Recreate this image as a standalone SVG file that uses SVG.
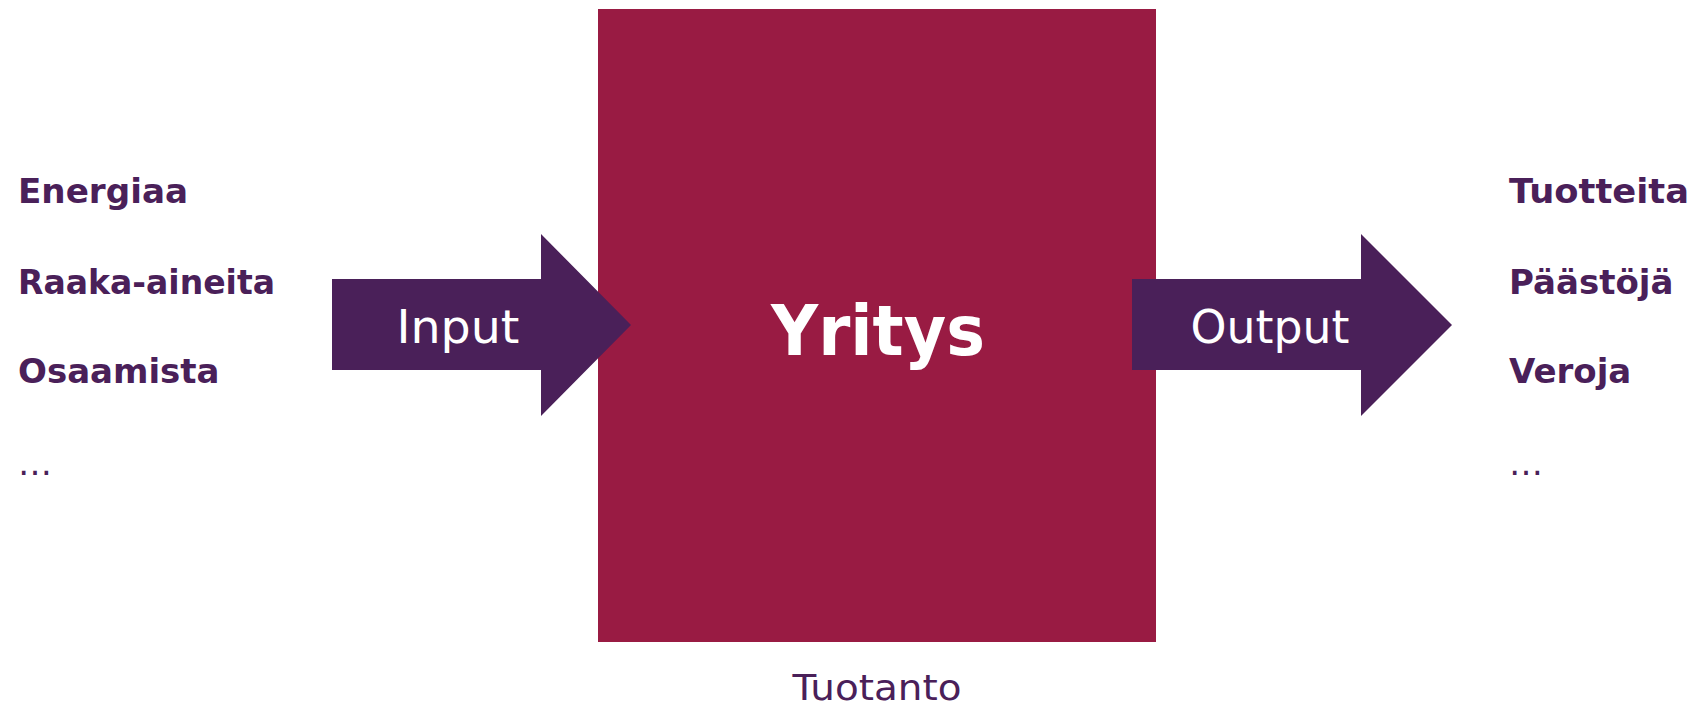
<svg xmlns="http://www.w3.org/2000/svg" width="1698" height="708" viewBox="0 0 1698 708">
<style>
.lbl{font-family:"DejaVu Sans","Liberation Sans",sans-serif;fill:#4a2059}
.b{font-weight:bold;font-size:34px}
.n{font-size:34px}
.arr{fill:#4a2059}
.wt{font-family:"DejaVu Sans","Liberation Sans",sans-serif;fill:#ffffff}
</style>
<rect width="1698" height="708" fill="#ffffff"/>
<g id="yritys">
<rect x="598" y="9" width="558" height="633" fill="#991b43"/>
</g>
<g id="connectors">
<polygon id="input-arrow" class="arr" points="332,279 541,279 541,234 631,325 541,416 541,370 332,370"/>
<polygon id="output-arrow" class="arr" points="1132,279 1361,279 1361,234 1452,325 1361,416 1361,370 1132,370"/>
</g>
<text class="wt" x="878" y="355" font-size="70" font-weight="bold" text-anchor="middle" textLength="214" lengthAdjust="spacingAndGlyphs">Yritys</text>
<text class="wt" x="458" y="343" font-size="47" text-anchor="middle" textLength="123" lengthAdjust="spacingAndGlyphs">Input</text>
<text class="wt" x="1270" y="343" font-size="47" text-anchor="middle" textLength="159" lengthAdjust="spacingAndGlyphs">Output</text>
<g id="inputs">
<text class="lbl b" x="18" y="203" textLength="170" lengthAdjust="spacingAndGlyphs">Energiaa</text>
<text class="lbl b" x="18" y="294" textLength="257" lengthAdjust="spacingAndGlyphs">Raaka-aineita</text>
<text class="lbl b" x="18" y="383">Osaamista</text>
<text class="lbl n" x="18" y="475">…</text>
</g>
<g id="outputs">
<text class="lbl b" x="1509" y="203" textLength="180" lengthAdjust="spacingAndGlyphs">Tuotteita</text>
<text class="lbl b" x="1509" y="294">Päästöjä</text>
<text class="lbl b" x="1509" y="383">Veroja</text>
<text class="lbl n" x="1509" y="475">…</text>
</g>
<g id="tuotanto">
<text class="lbl" x="877" y="700" font-size="36" text-anchor="middle" textLength="169" lengthAdjust="spacingAndGlyphs">Tuotanto</text>
</g>
</svg>
